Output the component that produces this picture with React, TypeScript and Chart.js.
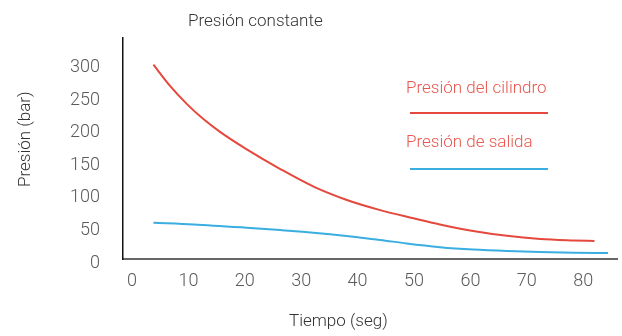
import React, { useEffect, useRef } from 'react';
import { Chart, registerables } from 'chart.js';

Chart.register(...registerables);

const chartTitle = 'Presión constante';
const xAxisTitle = 'Tiempo (seg)';
const yAxisTitle = 'Presión (bar)';
const seriesNames = ['Presión del cilindro', 'Presión de salida'];

const xTicks = [0, 10, 20, 30, 40, 50, 60, 70, 80];
const yTicks = [0, 50, 100, 150, 200, 250, 300];

const cylinderTime = [3.8, 6.7, 9.7, 12.6, 15.6, 20.2, 26.3, 32.2, 38.1, 44, 49.9, 54.6, 60.5, 66.5, 72.4, 78.3, 82];
const cylinderPressure = [298, 266, 238, 215, 195, 169, 138, 111, 90.5, 75, 62.5, 53, 43, 35.5, 30.8, 28.5, 27.5];

const outletTime = [3.8, 10.9, 20.3, 26.3, 30.2, 35.1, 40.1, 44, 48.7, 54.6, 60.5, 66.5, 72.4, 78.3, 84.4];
const outletPressure = [55.6, 53, 48, 44.4, 41.8, 37.8, 33.2, 29.3, 23.8, 18.2, 14.5, 12.2, 10.7, 9.7, 9.2];

const RED = '#e5483c';
const BLUE = '#3aaee0';
const FONT = 'Roboto, "Helvetica Neue", Arial, sans-serif';

const textPlugin = {
  id: 'customTexts',
  afterDraw(chart: any) {
    const ctx = chart.ctx;
    ctx.save();
    ctx.textBaseline = 'alphabetic';
    ctx.textAlign = 'left';
    ctx.font = `300 17px ${FONT}`;
    ctx.fillStyle = '#333';
    ctx.fillText(chartTitle, 188, 26);
    ctx.fillText(xAxisTitle, 289, 326);

    ctx.save();
    ctx.translate(30, 187);
    ctx.rotate(-Math.PI / 2);
    ctx.fillText(yAxisTitle, 0, 0);
    ctx.restore();

    ctx.fillStyle = '#e8574d';
    ctx.fillText(seriesNames[0], 406, 93);
    ctx.fillText(seriesNames[1], 406, 147);

    ctx.lineWidth = 2;
    ctx.strokeStyle = RED;
    ctx.beginPath();
    ctx.moveTo(410, 113);
    ctx.lineTo(548, 113);
    ctx.stroke();
    ctx.strokeStyle = BLUE;
    ctx.beginPath();
    ctx.moveTo(410, 169);
    ctx.lineTo(548, 169);
    ctx.stroke();
    ctx.restore();
  },
};

export default function App() {
  const ref = useRef<HTMLCanvasElement | null>(null);

  useEffect(() => {
    document.body.style.margin = '0';
    const canvas = ref.current;
    if (!canvas) return;
    const chart = new Chart(canvas, {
      type: 'line',
      data: {
        datasets: [
          {
            label: seriesNames[0],
            data: cylinderTime.map((t, i) => ({ x: t, y: cylinderPressure[i] })),
            borderColor: RED,
            borderWidth: 2,
            pointRadius: 0,
            cubicInterpolationMode: 'monotone',
            fill: false,
          },
          {
            label: seriesNames[1],
            data: outletTime.map((t, i) => ({ x: t, y: outletPressure[i] })),
            borderColor: BLUE,
            borderWidth: 2,
            pointRadius: 0,
            cubicInterpolationMode: 'monotone',
            fill: false,
          },
        ],
      },
      options: {
        responsive: false,
        animation: false,
        devicePixelRatio: 1,
        layout: { padding: { left: 0, right: 5, top: 38, bottom: 0 } },
        plugins: {
          legend: { display: false },
          title: { display: false },
          tooltip: { enabled: false },
        },
        scales: {
          x: {
            type: 'linear',
            min: -1.6,
            max: 86,
            afterBuildTicks: (s: any) => {
              s.ticks = xTicks.map((v) => ({ value: v }));
            },
            afterFit: (s: any) => {
              s.height = 77;
            },
            grid: { display: false, drawTicks: false },
            border: { display: true, color: '#666', width: 2 },
            ticks: {
              autoSkip: false,
              maxRotation: 0,
              padding: 12,
              color: '#5a5a5a',
              font: { family: FONT, size: 18, weight: '300' as any },
            },
          },
          y: {
            type: 'linear',
            min: 0,
            max: 339,
            afterBuildTicks: (s: any) => {
              s.ticks = yTicks.map((v) => ({ value: v }));
            },
            afterFit: (s: any) => {
              s.width = 123;
            },
            grid: { display: false, drawTicks: false },
            border: { display: true, color: '#111', width: 1.5 },
            ticks: {
              padding: 23,
              labelOffset: 4,
              color: '#5a5a5a',
              font: { family: FONT, size: 18, weight: '300' as any },
            },
          },
        },
      },
      plugins: [textPlugin],
    });
    return () => chart.destroy();
  }, []);

  return (
    <div style={{ position: 'fixed', left: 0, top: 0, width: 622, height: 336, background: '#fff' }}>
      <canvas ref={ref} width={622} height={336} style={{ width: 622, height: 336, display: 'block' }} />
    </div>
  );
}
